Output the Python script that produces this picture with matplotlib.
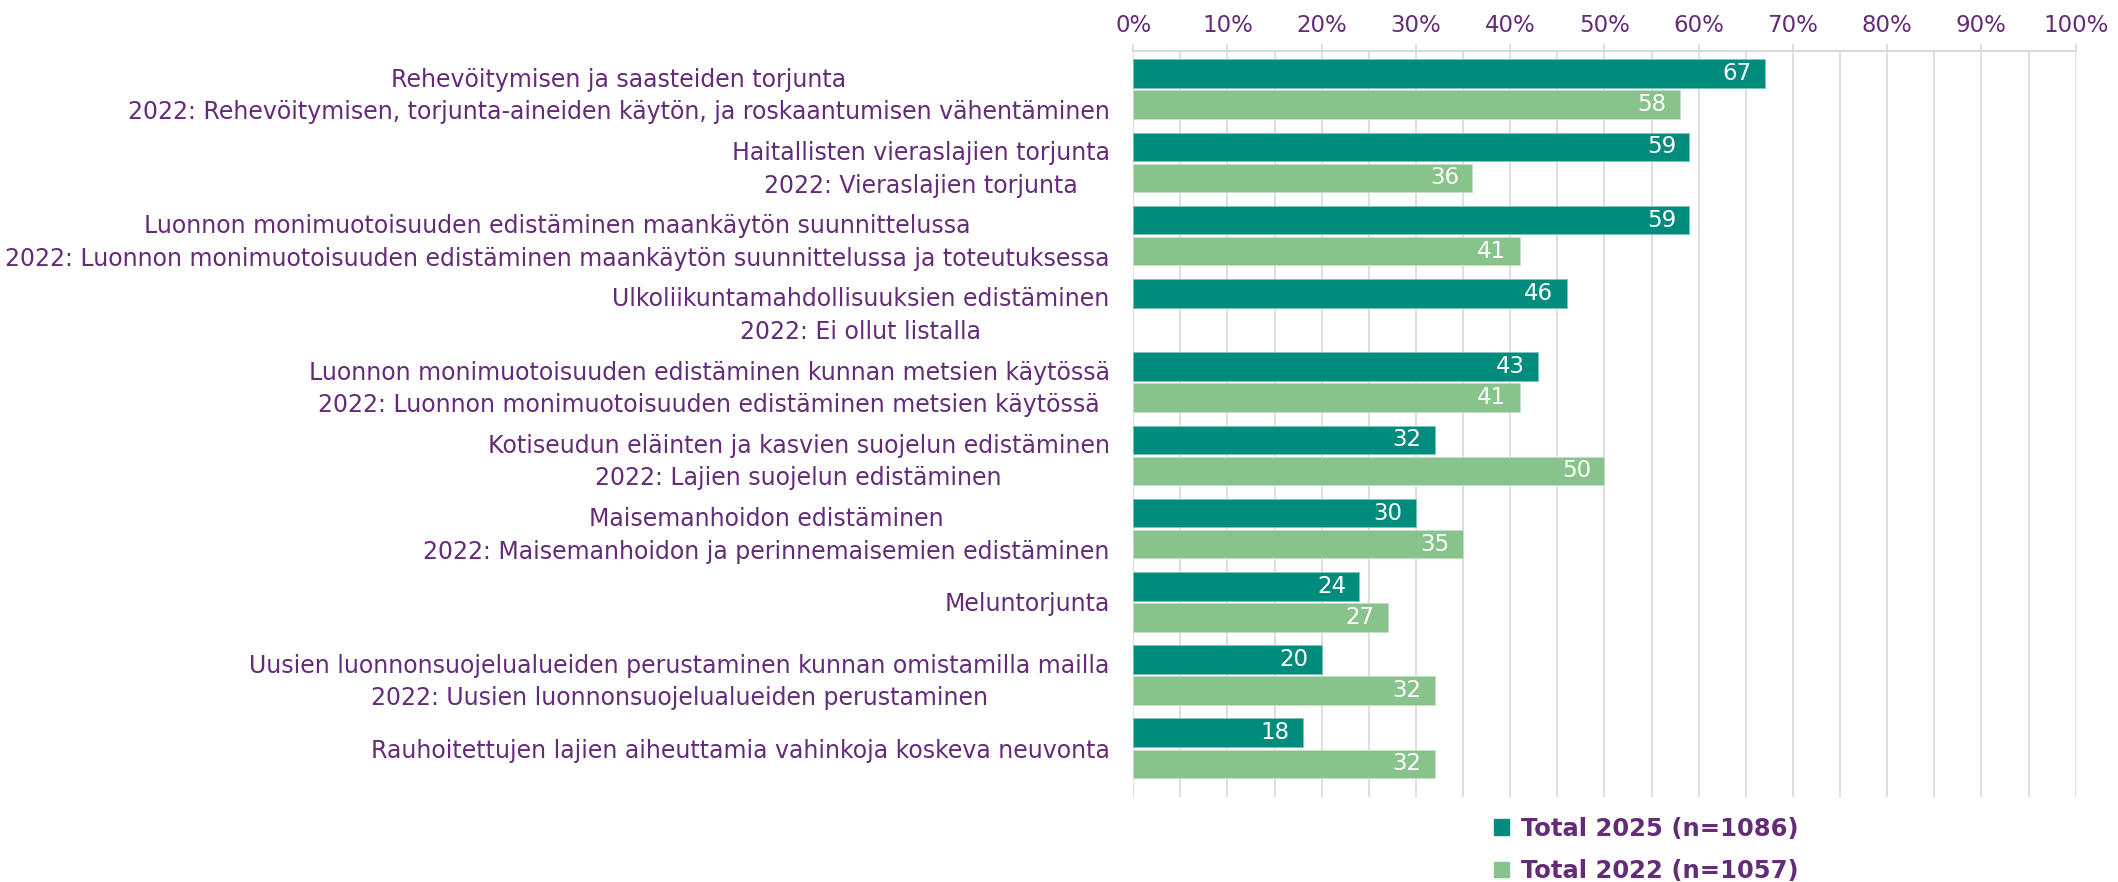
import numpy as np
import matplotlib.pyplot as plt
from matplotlib.patches import Patch

# data
categories = [
    "Rehevöitymisen ja saasteiden torjunta\n2022: Rehevöitymisen, torjunta-aineiden käytön, ja roskaantumisen vähentäminen",
    "Haitallisten vieraslajien torjunta\n2022: Vieraslajien torjunta",
    "Luonnon monimuotoisuuden edistäminen maankäytön suunnittelussa\n2022: Luonnon monimuotoisuuden edistäminen maankäytön suunnittelussa ja toteutuksessa",
    "Ulkoliikuntamahdollisuuksien edistäminen\n2022: Ei ollut listalla",
    "Luonnon monimuotoisuuden edistäminen kunnan metsien käytössä\n2022: Luonnon monimuotoisuuden edistäminen metsien käytössä",
    "Kotiseudun eläinten ja kasvien suojelun edistäminen\n2022: Lajien suojelun edistäminen",
    "Maisemanhoidon edistäminen\n2022: Maisemanhoidon ja perinnemaisemien edistäminen",
    "Meluntorjunta",
    "Uusien luonnonsuojelualueiden perustaminen kunnan omistamilla mailla\n2022: Uusien luonnonsuojelualueiden perustaminen",
    "Rauhoitettujen lajien aiheuttamia vahinkoja koskeva neuvonta",
]
total_2025 = [67, 59, 59, 46, 43, 32, 30, 24, 20, 18]
total_2022 = [58, 36, 41, np.nan, 41, 50, 35, 27, 32, 32]
series_names = ["Total 2025 (n=1086)", "Total 2022 (n=1057)"]
tick_labels = [f"{v}%" for v in range(0, 101, 10)]

dark = "#008C7C"
light = "#88C38C"
purple = "#642C78"
grid = "#D9D9D9"

fig = plt.figure(figsize=(21.18, 8.82), dpi=100)
ax = fig.add_axes([0.535, 0.096, 0.445, 0.846])

y = np.arange(len(categories))
off = 0.212
h = 0.39

b1 = ax.barh(y - off, total_2025, height=h, color=dark, edgecolor="#7fc4bb", linewidth=0.6, zorder=3)
b2 = ax.barh(y + off, total_2022, height=h, color=light, edgecolor="#c4e1c6", linewidth=0.6, zorder=3)

# value labels inside the bar ends
for bars, vals in [(b1, total_2025), (b2, total_2022)]:
    for bar, v in zip(bars, vals):
        if np.isnan(v):
            continue
        ax.text(v - 1.4, bar.get_y() + bar.get_height() / 2, f"{v:.0f}",
                ha="right", va="center", color="white", fontsize=16.5, zorder=4)

ax.set_xlim(0, 100)
ax.set_ylim(9.67, -0.52)

ax.xaxis.tick_top()
ax.set_xticks(range(0, 101, 10))
ax.set_xticklabels(tick_labels)
ax.set_xticks(range(5, 100, 10), minor=True)
ax.tick_params(axis="x", which="major", direction="out", length=5, color=grid, width=1.2,
               labelcolor=purple, labelsize=16.5, pad=5)
ax.tick_params(axis="x", which="minor", length=0)
ax.grid(axis="x", which="both", color=grid, linewidth=1.2, zorder=0)

ax.set_yticks(y)
ax.set_yticklabels(categories, ha="right", multialignment="center", linespacing=1.45)
ax.tick_params(axis="y", length=0, labelcolor=purple, labelsize=17, pad=17)

for s in ["right", "bottom", "left"]:
    ax.spines[s].set_visible(False)
ax.spines["top"].set_color(grid)
ax.spines["top"].set_linewidth(1.5)

handles = [Patch(color=dark), Patch(color=light)]
leg = fig.legend(handles, series_names, loc="upper left", bbox_to_anchor=(0.701, 0.085),
                 frameon=False, handlelength=0.6, handleheight=0.6, handletextpad=0.5,
                 labelspacing=0.75, borderaxespad=0,
                 prop={"weight": "bold", "size": 17.5})
for t in leg.get_texts():
    t.set_color(purple)

fig.savefig("out.png", dpi=100)
